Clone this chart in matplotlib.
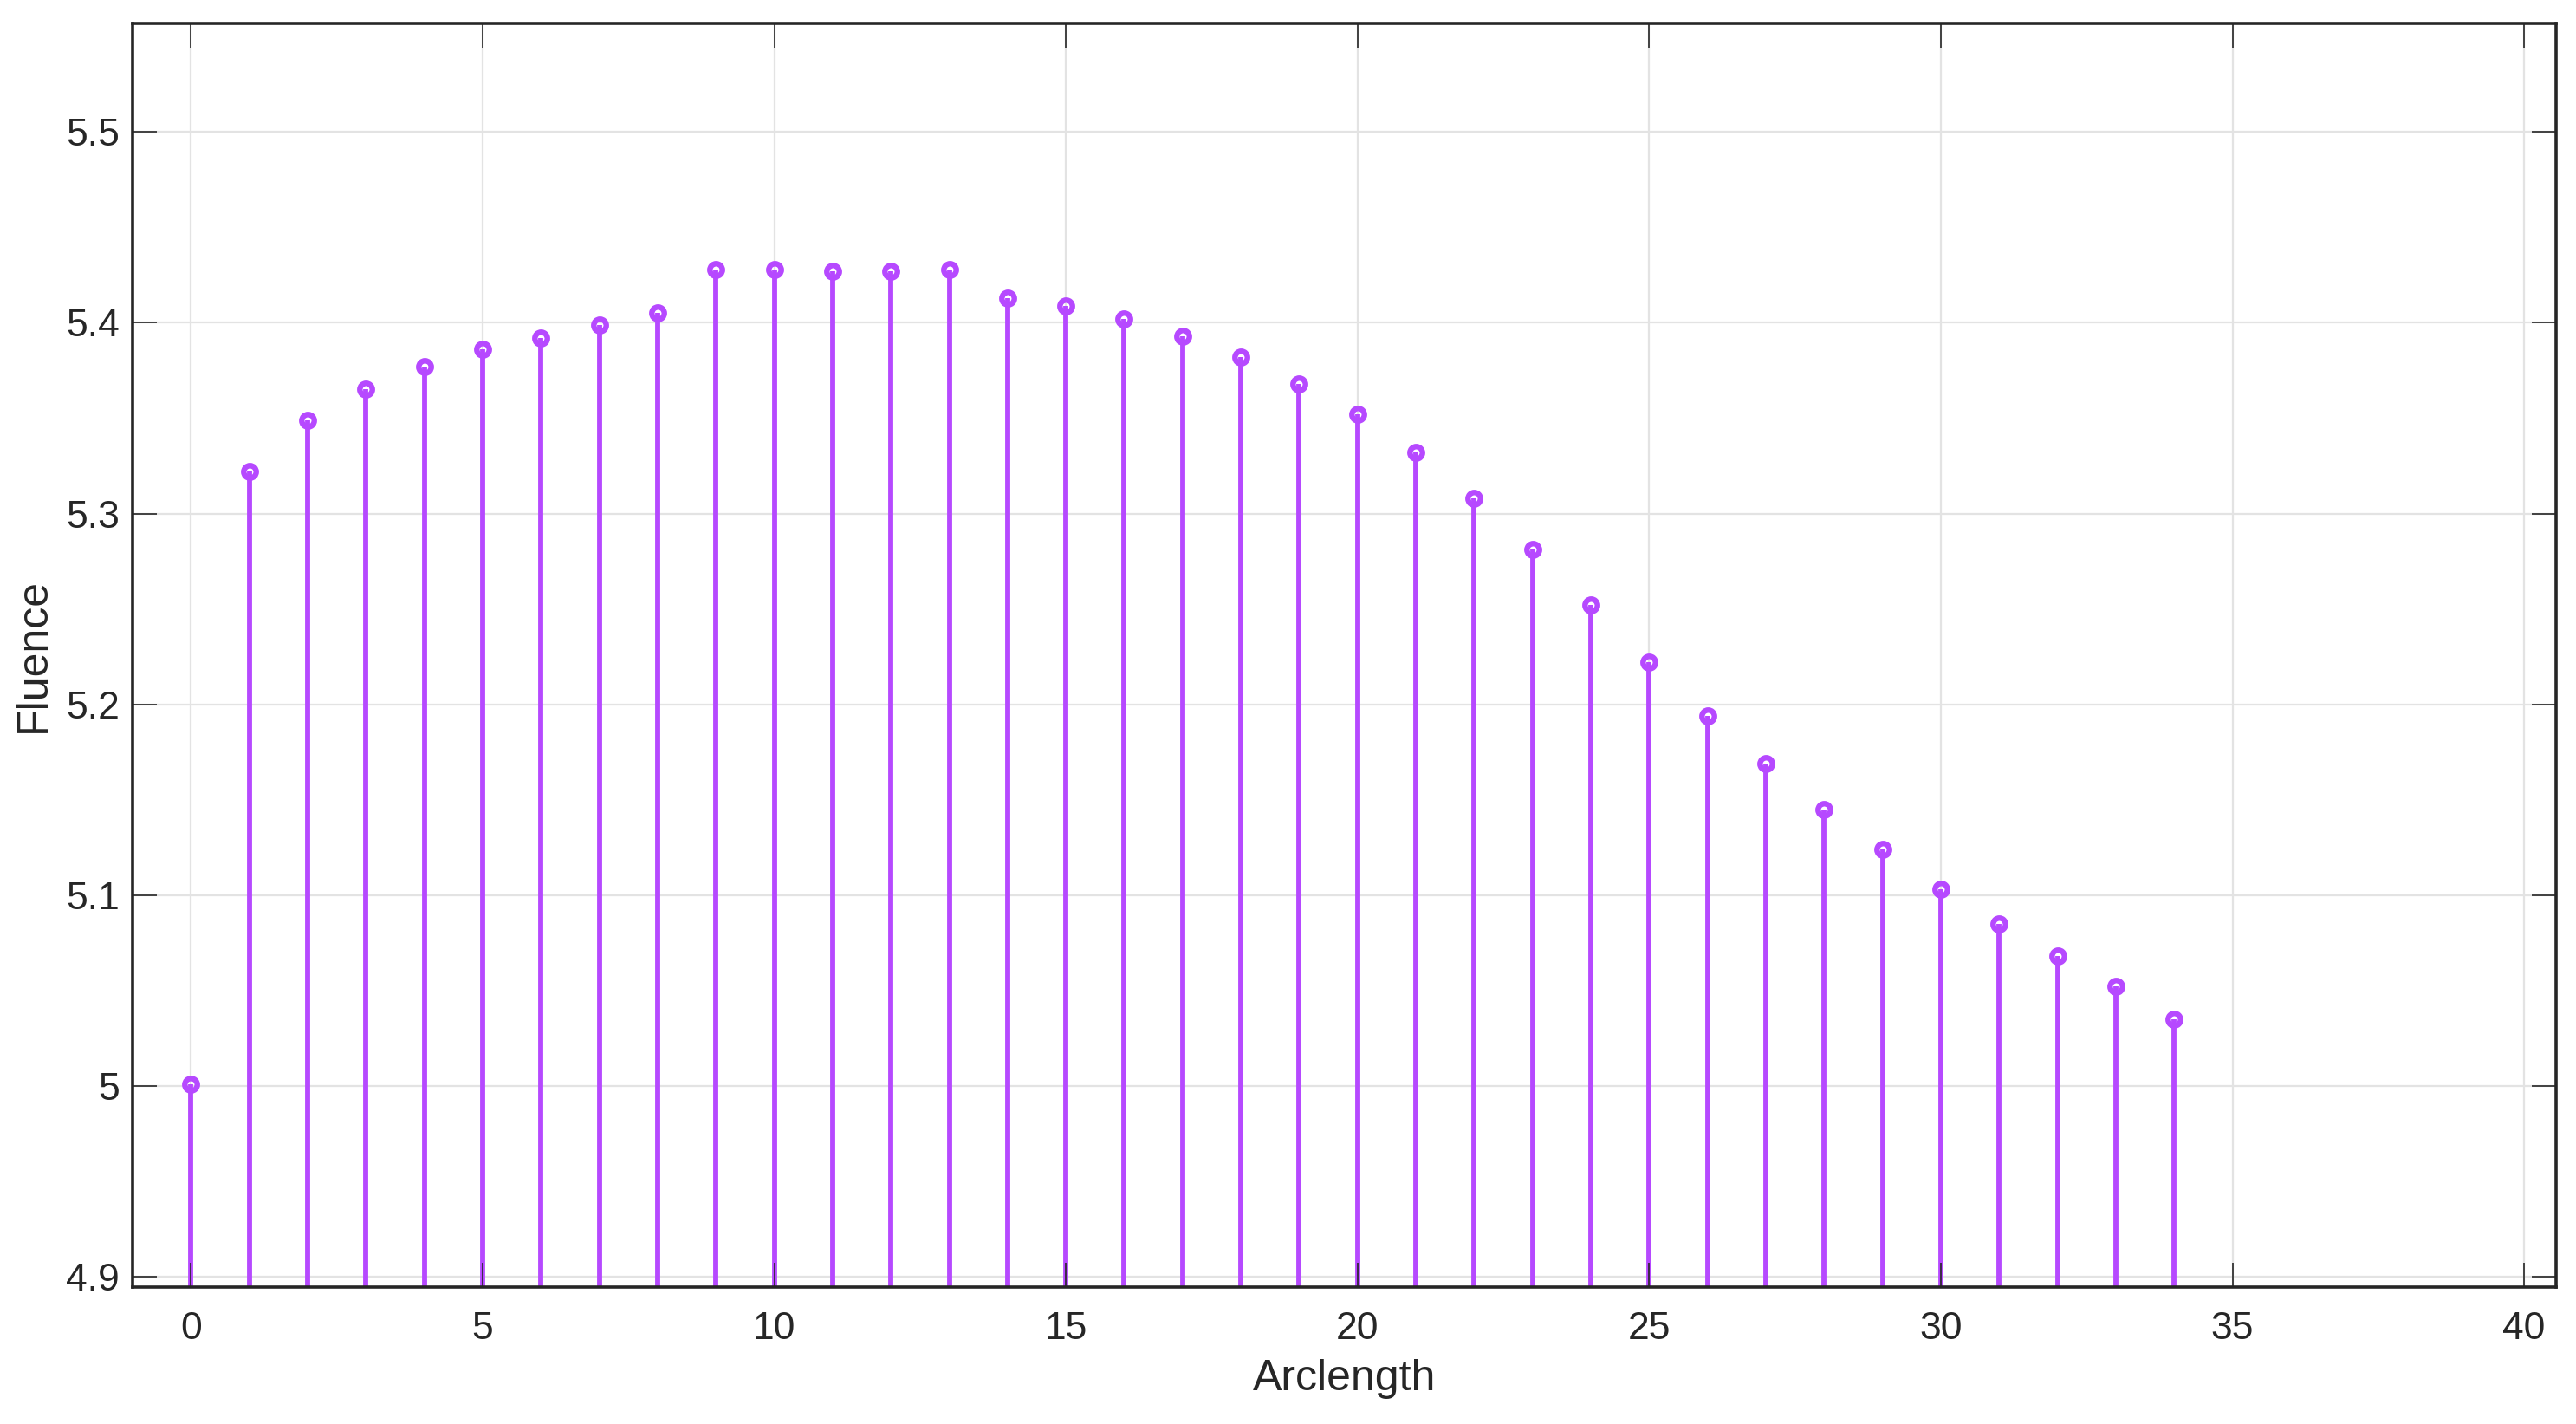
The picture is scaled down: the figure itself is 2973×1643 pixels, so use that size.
import matplotlib.pyplot as plt

arclength = list(range(35))
fluence = [
    5.001, 5.322, 5.349, 5.365, 5.377, 5.386, 5.392, 5.399, 5.405, 5.428,
    5.428, 5.427, 5.427, 5.428, 5.413, 5.409, 5.402, 5.393, 5.382, 5.368,
    5.352, 5.332, 5.308, 5.281, 5.252, 5.222, 5.194, 5.169, 5.145, 5.124,
    5.103, 5.085, 5.068, 5.052, 5.035,
]
x_ticks = list(range(0, 41, 5))
y_ticks = [4.9, 5.0, 5.1, 5.2, 5.3, 5.4, 5.5]
y_tick_labels = ["4.9", "5", "5.1", "5.2", "5.3", "5.4", "5.5"]

COLOR = "#B649FF"
DARK = "#262626"
XLIM = (-1, 40.55)
YLIM = (4.8945, 5.557)
POS = [0.0515, 0.0962, 0.9408, 0.8874]


def main():
    plt.rcParams["font.family"] = ["Liberation Sans", "DejaVu Sans"]
    fig = plt.figure(figsize=(14.865, 8.215), dpi=200)
    ax = fig.add_axes(POS)

    markerline, stemlines, baseline = ax.stem(arclength, fluence, bottom=0)
    stemlines.set_color(COLOR)
    stemlines.set_linewidth(2.1)
    markerline.set_color(COLOR)
    markerline.set_markerfacecolor("none")
    markerline.set_markersize(5.2)
    markerline.set_markeredgewidth(2.3)
    baseline.set_visible(False)

    ax.set_xlim(*XLIM)
    ax.set_ylim(*YLIM)
    ax.set_xticks(x_ticks)
    ax.set_yticks(y_ticks)
    ax.set_yticklabels(y_tick_labels)
    ax.grid(True, color="#e3e3e3", linewidth=0.8)
    ax.set_axisbelow(True)
    ax.tick_params(length=0, labelcolor=DARK, labelsize=16)
    ax.tick_params(axis="x", pad=10)
    ax.tick_params(axis="y", pad=5.5)
    for spine in ax.spines.values():
        spine.set_visible(False)
    ax.set_xlabel("Arclength", fontsize=18, color=DARK)
    ax.set_ylabel("Fluence", fontsize=18, color=DARK)
    ax.xaxis.set_label_coords(0.5, -0.073)
    ax.yaxis.set_label_coords(-0.041, 0.5)
    ax.xaxis.label.set_va("center")
    ax.yaxis.label.set_va("center")

    # overlay axes so tick marks sit on top of the stems, like the original
    top = fig.add_axes(POS, sharex=ax, sharey=ax)
    top.patch.set_visible(False)
    top.tick_params(direction="in", top=True, right=True, length=10, width=0.6,
                    color=DARK, labelbottom=False, labelleft=False)
    for spine in top.spines.values():
        spine.set_color(DARK)
        spine.set_linewidth(1.3)

    fig.savefig("out.png", dpi=200)
    plt.close(fig)


if __name__ == "__main__":
    main()
